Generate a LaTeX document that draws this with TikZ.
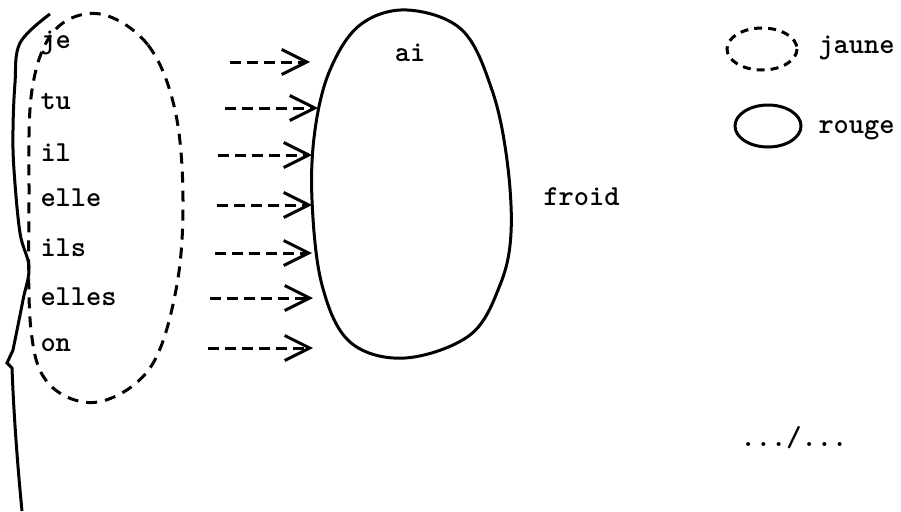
\documentclass[tikz,border=0pt]{standalone}
\usepackage{fontspec}
\usetikzlibrary{arrows.meta,shapes.geometric}
\newcommand{\pronrows}{je/43/230/310/62,tu/102/225/318/108,il/153/218/312/155,elle/198/217/312/205,ils/248/215/312/253,elles/297/210/313/298,on/345/208/313/348}

\begin{document}
\begin{tikzpicture}[x=1pt,y=-1pt,line width=3pt,
    every node/.style={font=\fontsize{29}{32}\selectfont\ttfamily\bfseries},
    jaunebord/.style={dash pattern=on 11pt off 8pt},
    rougebord/.style={solid},
    pron/.style={anchor=west,inner sep=0pt},
    flech/.style={dash pattern=on 11pt off 6pt,-{Straight Barb[length=25pt,width=25pt]}}]
\useasboundingbox (0,0) rectangle (901,511);
% ensembles
\draw[jaunebord] plot[smooth cycle,tension=0.6] coordinates {(100,14) (148,45) (175,110) (183,200) (176,290) (150,368) (98,402) (50,385) (31,330) (29,200) (32,90) (55,30)};
\draw[rougebord] plot[smooth cycle,tension=0.6] coordinates {(407,10) (462,30) (492,90) (507,160) (511,233) (500,285) (470,335) (405,358) (350,342) (322,285) (312,200) (315,130) (330,70) (360,25)};
\foreach \w/\y/\xa/\xb/\ya [count=\i] in \pronrows {
    \node[pron] (p\i) at (39,\y) {\w};
    \coordinate (s\i) at (\xa,\ya);
    \coordinate (e\i) at (\xb,\ya);
    \draw[flech] (s\i) -- (e\i);
}
\node (ai) at (410,53) {ai};
\node[pron] (froid) at (542,197) {froid};
% accolade
\draw plot[smooth,tension=0.6] coordinates {(50,14) (20,43) (15,83) (13,130) (14,170) (20,233) (29,267) (23,300) (13,350)} -- (7,363) -- (12,368) .. controls (14,420) and (18,470) .. (22,511);
% legende
\draw[jaunebord,dash pattern=on 8pt off 6pt] (762,49) ellipse [x radius=35,y radius=21];
\node[pron] (tj) at (817,48) {jaune};
\draw[rougebord] (768,126) ellipse [x radius=33,y radius=21];
\node[pron] (tr) at (817,130) {rouge};
\node (suite) at (794,438) {.../...};
\end{tikzpicture}
\end{document}
